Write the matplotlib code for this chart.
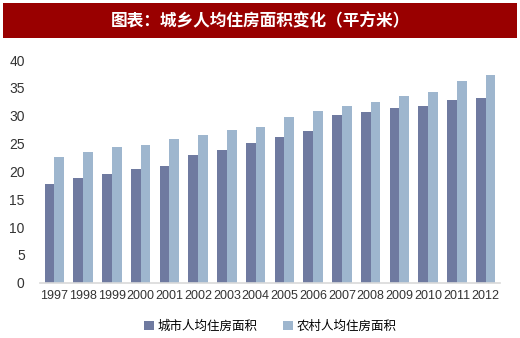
import numpy as np
import matplotlib.pyplot as plt
from matplotlib.patches import Rectangle

plt.rcParams['font.family'] = ['Liberation Sans', 'Noto Sans CJK SC', 'DejaVu Sans']

years = ['1997', '1998', '1999', '2000', '2001', '2002', '2003', '2004',
         '2005', '2006', '2007', '2008', '2009', '2010', '2011', '2012']
city = [17.8, 18.8, 19.5, 20.5, 21.0, 23.0, 23.9, 25.1,
        26.2, 27.2, 30.2, 30.7, 31.4, 31.8, 32.8, 33.1]
rural = [22.6, 23.5, 24.3, 24.8, 25.9, 26.6, 27.4, 28.0,
         29.8, 30.8, 31.8, 32.5, 33.6, 34.3, 36.3, 37.3]

fig = plt.figure(figsize=(5.2, 3.38), dpi=100, facecolor='white')

# title banner
fig.patches.append(Rectangle((3/520, 1-38/338), 514/520, 35/338,
                             transform=fig.transFigure, facecolor='#990000',
                             edgecolor='none'))
fig.text(0.5, 1-21/338, '图表：城乡人均住房面积变化（平方米）', color='white',
         fontsize=12, fontweight='bold', ha='center', va='center',
         family=['Noto Sans CJK SC', 'DejaVu Sans'])

ax = fig.add_axes([40/520, 55.3/338, 460/520, 222.7/338])
x = np.arange(len(years))
w = 0.335
ax.bar(x - w/2, city, w, color='#6F7AA0', label='城市人均住房面积')
ax.bar(x + w/2, rural, w, color='#9EB6CE', label='农村人均住房面积')

ax.set_xlim(-0.5, len(years) - 0.5)
ax.set_ylim(0, 40)
ax.set_yticks(range(0, 41, 5))
ax.set_xticks(x)
ax.set_xticklabels(years)
for s in ['top', 'right', 'left']:
    ax.spines[s].set_visible(False)
ax.spines['bottom'].set_color('#d9d9d9')
ax.spines['bottom'].set_linewidth(1.2)
ax.tick_params(axis='both', length=0, colors='#333333')
ax.tick_params(axis='y', pad=11, labelsize=10)
ax.tick_params(axis='x', pad=5, labelsize=9)

ax.legend(loc='center', bbox_to_anchor=(0.5, -0.195), ncol=2, frameon=False,
          handlelength=0.8, handleheight=0.8, handletextpad=0.3,
          columnspacing=2.0, prop={'family': ['Noto Sans CJK SC', 'DejaVu Sans'], 'size': 9})

fig.savefig('out.png', dpi=100)
